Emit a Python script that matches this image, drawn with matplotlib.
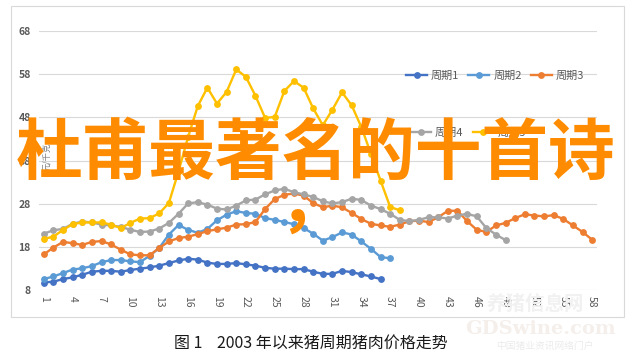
import matplotlib

matplotlib.use('AGG')  # noqa

import matplotlib.pyplot as plt
from matplotlib.patches import Rectangle

plt.rcParams['font.family'] = ['Noto Sans CJK SC', 'DejaVu Sans']

# weekly-ish index 1..58, price in 元/千克
labels = ['周期1', '周期2', '周期3', '周期4', '周期5']
colors = ['#4472C4', '#5B9BD5', '#ED7D31', '#A5A5A5', '#FFC000']

cycle1 = [9.8, 10.0, 10.6, 11.0, 11.6, 12.3, 12.5, 12.5, 12.3, 12.7, 13.0, 13.3,
          13.7, 14.3, 14.9, 15.3, 15.1, 14.4, 14.1, 14.1, 14.3, 14.0, 13.7, 13.2,
          13.0, 13.0, 12.9, 12.9, 12.3, 11.8, 11.8, 12.5, 12.2, 11.7, 11.2, 10.6]
cycle2 = [10.6, 11.2, 12.0, 12.8, 13.1, 13.6, 14.5, 15.0, 15.0, 14.7, 14.5, 16.0,
          17.8, 20.9, 23.1, 22.0, 21.3, 22.2, 24.2, 25.5, 26.3, 25.9, 25.7, 24.7,
          24.3, 23.8, 23.3, 22.4, 21.1, 19.5, 20.3, 21.4, 20.9, 19.3, 17.6, 15.7,
          15.4]
cycle3 = [16.3, 17.9, 19.2, 18.9, 18.5, 19.2, 19.4, 18.6, 17.4, 16.3, 16.1, 16.1,
          17.8, 19.3, 20.1, 20.4, 21.0, 21.7, 22.1, 22.5, 23.2, 23.3, 23.8, 26.8,
          29.1, 30.1, 30.4, 29.9, 28.2, 27.2, 27.6, 27.2, 25.9, 24.5, 23.4, 23.0,
          22.7, 23.2, 24.0, 24.1, 23.8, 24.9, 26.4, 26.4, 24.0, 22.0, 21.5, 23.0,
          23.6, 24.7, 25.6, 25.3, 25.1, 25.4, 24.5, 23.0, 21.5, 19.7]
cycle4 = [21.1, 21.9, 22.2, 23.4, 23.9, 23.7, 23.2, 23.0, 22.7, 22.0, 21.5, 21.6,
          22.3, 23.6, 25.7, 28.1, 28.4, 27.8, 26.9, 26.7, 27.6, 28.8, 29.0, 30.2,
          31.1, 31.5, 30.7, 30.2, 29.6, 28.6, 28.1, 28.4, 29.2, 28.9, 27.6, 26.8,
          25.7, 24.3, 24.0, 24.3, 24.9, 24.9, 24.6, 25.3, 25.7, 25.1, 22.4, 20.9,
          19.6]
cycle5 = [19.9, 20.4, 22.0, 23.3, 23.7, 23.7, 23.7, 23.2, 22.4, 23.6, 24.6, 24.7,
          25.8, 28.2, 35.5, 43.5, 50.6, 54.9, 51.2, 53.9, 59.1, 57.4, 53.0, 47.9,
          48.1, 54.1, 56.4, 54.9, 50.1, 46.2, 49.8, 53.8, 50.8, 45.8, 39.6, 33.4,
          27.3, 26.5]
series = [cycle1, cycle2, cycle3, cycle4, cycle5]

yticks = [8, 18, 28, 38, 48, 58, 68]
xticks = list(range(1, 59, 3))

W, H = 634, 358
fig = plt.figure(figsize=(W / 100, H / 100), dpi=100)
fig.patch.set_facecolor('white')

# outer chart frame
fig.patches.append(Rectangle((11 / W, 1 - 317 / H), 613 / W, 311 / H,
                             transform=fig.transFigure, fill=False,
                             edgecolor='#d9d9d9', linewidth=0.8))

ax = fig.add_axes([39 / W, 1 - 290.3 / H, 558 / W, 259.3 / H])
lines = []
for vals, lab, col in zip(series, labels, colors):
    x = list(range(1, len(vals) + 1))
    ln, = ax.plot(x, vals, '-o', color=col, lw=1.7, ms=3.9, label=lab)
    lines.append(ln)

ax.set_xlim(0.5, 58.5)
ax.set_ylim(8, 68)
ax.set_yticks(yticks)
ax.set_xticks(xticks)
ax.set_xticklabels([str(t) for t in xticks], rotation=-90, va='top', ha='center')
ax.grid(axis='y', color='#d9d9d9', lw=0.8)
ax.set_axisbelow(True)
for s in ax.spines.values():
    s.set_visible(False)
ax.tick_params(length=0, colors='#595959', labelsize=7.5)
ax.tick_params(axis='y', pad=6)
ax.tick_params(axis='x', pad=4)
for t in ax.get_yticklabels():
    t.set_fontweight('bold')

leg1 = ax.legend(lines[:3], labels[:3], loc='center', ncol=3,
                 bbox_to_anchor=(495 / W, 1 - 76 / H), bbox_transform=fig.transFigure,
                 frameon=False, fontsize=8, handlelength=1.9, handletextpad=0.35,
                 columnspacing=0.8, labelcolor='#595959')
ax.add_artist(leg1)
ax.legend(lines[3:], labels[3:], loc='center', ncol=2,
          bbox_to_anchor=(468 / W, 1 - 133 / H), bbox_transform=fig.transFigure,
          frameon=False, fontsize=8, handlelength=1.9, handletextpad=0.35,
          columnspacing=0.8, labelcolor='#595959')

fig.text(47 / W, 1 - 157 / H, '元/千克', rotation=90, fontsize=6,
         color='#7f7f7f', ha='center', va='center')

# watermark, very faint
fig.text(535 / W, 1 - 304 / H, '养猪信息网', fontsize=14, color='#f1f1f1',
         ha='center', va='center', fontweight='bold')
fig.text(540 / W, 1 - 329 / H, 'GDSwine.com', fontsize=14, color='#f5efeb',
         ha='center', va='center', family='DejaVu Serif', fontweight='bold')
fig.text(545 / W, 1 - 346 / H, '中国猪业资讯网络门户', fontsize=7, color='#ebebeb',
         ha='center', va='center')

fig.text(311 / W, 1 - 343 / H, '图 1    2003 年以来猪周期猪肉价格走势',
         fontsize=11.5, color='#1a1a1a', ha='center', va='center')

# overlay title
fig.text(316 / W, 1 - 154 / H, '杜甫最著名的十首诗', fontsize=48,
         color='#FF8C00', fontweight='bold', ha='center', va='center')
fig.text(311 / W, 1 - 205 / H, '，', fontsize=48,
         color='#FF8C00', fontweight='bold', ha='center', va='center')

fig.savefig('out.png', dpi=100)
